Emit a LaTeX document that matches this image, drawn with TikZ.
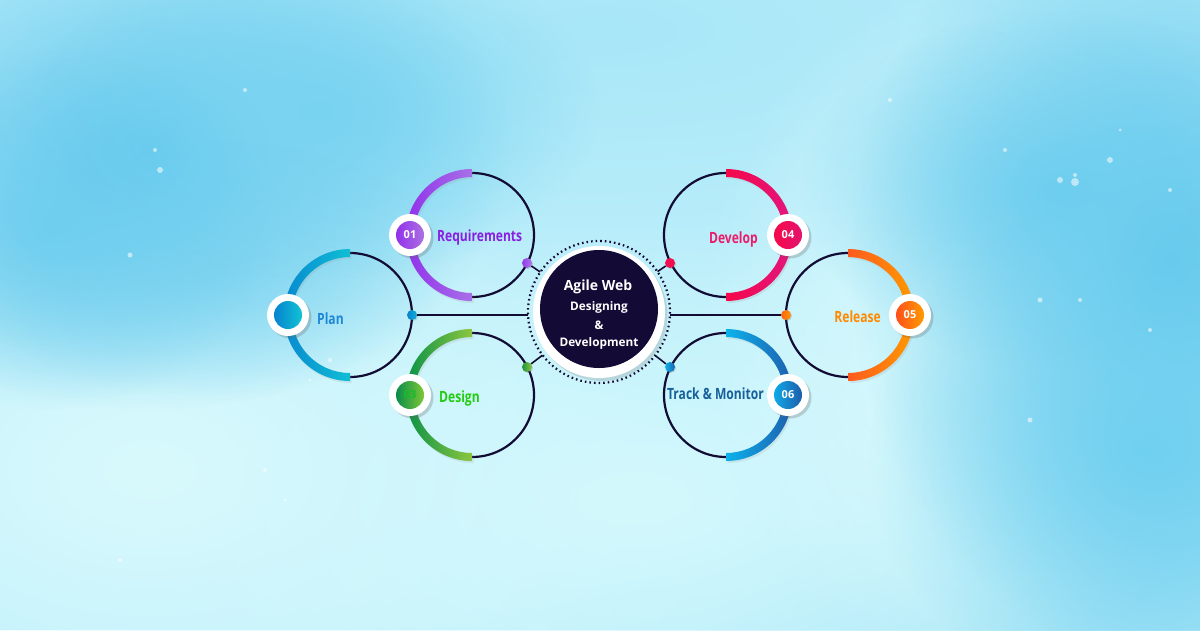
\documentclass[tikz,border=0pt]{standalone}
\usepackage{fontspec}
\setmainfont{Open Sans}
\newfontfamily\labfont[FakeStretch=0.78]{Open Sans}
\usetikzlibrary{fadings,calc,shadows}

\definecolor{bgbase}{HTML}{BDEFFB}
\definecolor{ink}{HTML}{120C35}
\definecolor{core}{HTML}{140A36}
\tikzfading[name=softblob, inner color=transparent!0, outer color=transparent!100]

\newcommand\halfarcL[4]{%
  \fill[black!40,opacity=0.18] (#1+1.5,#2-64) arc[start angle=270,end angle=90,radius=66] -- (#1+1.5,#2+60) arc[start angle=90,end angle=270,radius=58] -- cycle;
  \shade[left color=#4, right color=#3] (#1,#2-66) arc[start angle=270,end angle=90,radius=66] -- (#1,#2+58) arc[start angle=90,end angle=270,radius=58] -- cycle;}
\newcommand\halfarcR[4]{%
  \fill[black!40,opacity=0.18] (#1+1.5,#2-64) arc[start angle=-90,end angle=90,radius=66] -- (#1+1.5,#2+60) arc[start angle=90,end angle=-90,radius=58] -- cycle;
  \shade[left color=#3, right color=#4] (#1,#2-66) arc[start angle=-90,end angle=90,radius=66] -- (#1,#2+58) arc[start angle=90,end angle=-90,radius=58] -- cycle;}

\begin{document}
\begin{tikzpicture}[x=1pt,y=-1pt,
  thinring/.style={draw=ink, line width=2.2pt},
  conn/.style={draw=ink, line width=1.6pt},
  blob/.style={path fading=softblob},
  badge/.style={circle, fill=white, minimum size=42pt, inner sep=0pt,
     drop shadow={shadow xshift=2.5pt, shadow yshift=-2.5pt, opacity=0.28, fill=black!60}},
  badgein/.style={circle, minimum size=28pt, inner sep=0pt, text=white,
     font=\bfseries\fontsize{11}{11}\selectfont},
  dotnode/.style={circle, minimum size=10pt, inner sep=0pt,
     drop shadow={shadow xshift=1pt, shadow yshift=-1pt, opacity=0.25, fill=black!60}},
  lab/.style={inner sep=0pt, font=\labfont\bfseries\fontsize{15.5}{15.5}\selectfont},
  ctext/.style={text=white, align=center, inner sep=0pt}]

% ---------- background ----------
\useasboundingbox (0,0) rectangle (1200,630);
\begin{scope}
\clip (0,0) rectangle (1200,630);
\fill[bgbase] (0,0) rectangle (1200,630);
\fill[blob, color={rgb,255:red,168;green,231;blue,248}] (600,30) ellipse (800 and 260);
\fill[blob, color={rgb,255:red,165;green,229;blue,247}] (1050,650) ellipse (560 and 220);
\fill[blob, color={rgb,255:red,218;green,250;blue,253}] (150,470) ellipse (520 and 320);
\fill[blob, color={rgb,255:red,212;green,249;blue,253}] (640,500) ellipse (560 and 280);
\fill[blob, color={rgb,255:red,218;green,250;blue,253}] (960,330) ellipse (260 and 340);
\fill[blob, color={rgb,255:red,98;green,200;blue,237}] (150,150) ellipse (360 and 260);
\fill[blob, color={rgb,255:red,104;green,203;blue,238}, opacity=0.8] (50,230) ellipse (220 and 180);
\fill[blob, color={rgb,255:red,120;green,211;blue,241}] (320,110) ellipse (280 and 170);
\fill[blob, color={rgb,255:red,112;green,207;blue,239}, opacity=0.6] (210,270) ellipse (240 and 130);
\fill[blob, color={rgb,255:red,96;green,199;blue,236}] (1170,260) ellipse (320 and 400);
\fill[blob, color={rgb,255:red,110;green,206;blue,239}] (1060,190) ellipse (260 and 180);
\fill[blob, color={rgb,255:red,112;green,208;blue,240}] (1150,450) ellipse (280 and 260);
\foreach \p/\r in {(160,170)/3,(155,150)/2,(130,255)/2.5,(245,90)/2,(330,360)/2,(310,380)/1.5,(1060,180)/3,
  (1075,175)/2,(1005,150)/2,(1170,190)/2,(1120,130)/1.5,(1040,300)/2.5,(1080,300)/2,(1150,330)/2,
  (890,100)/2,(265,470)/2,(285,500)/1.5,(120,560)/2,(1030,420)/2.5,(1075,182)/4,(1110,160)/3}
  \fill[white, opacity=0.55] \p circle (\r);
\end{scope}

% ---------- core ----------
\node[circle, minimum size=142pt, inner sep=0pt] (core) at (599,312) {};
\fill[black!50, opacity=0.25] (601.5,315) circle (66);
\fill[white] (599,312) circle (66);
\fill[core] (599,309) circle (59);
\draw[ink, line width=2.2pt, dash pattern=on 1.6pt off 3pt] (599,312) circle (71);
\node[ctext, font=\bfseries\fontsize{14}{14}\selectfont] at (598,287) {Agile Web};
\node[ctext, font=\bfseries\fontsize{11.8}{11.8}\selectfont] at (599,307) {Designing};
\node[ctext, font=\bfseries\fontsize{11.8}{11.8}\selectfont] at (599,325) {\&};
\node[ctext, font=\bfseries\fontsize{11.8}{11.8}\selectfont] at (599,343) {Development};

% ---------- rings ----------
\draw[thinring] (472,235) circle (62);
\draw[thinring] (350,315) circle (62);
\draw[thinring] (472,395) circle (62);
\draw[thinring] (726,235) circle (62);
\draw[thinring] (848,315) circle (62);
\draw[thinring] (726,395) circle (62);

\halfarcL{472}{235}{ {rgb,255:red,168;green,112;blue,232} }{ {rgb,255:red,145;green,50;blue,234} }
\halfarcL{350}{315}{ {rgb,255:red,16;green,190;blue,212} }{ {rgb,255:red,8;green,138;blue,208} }
\halfarcL{472}{395}{ {rgb,255:red,140;green,198;blue,63} }{ {rgb,255:red,10;green,146;blue,72} }
\halfarcR{726}{235}{ {rgb,255:red,245;green,8;blue,74} }{ {rgb,255:red,226;green,22;blue,126} }
\halfarcR{848}{315}{ {rgb,255:red,255;green,90;blue,30} }{ {rgb,255:red,255;green,154;blue,0} }
\halfarcR{726}{395}{ {rgb,255:red,13;green,178;blue,236} }{ {rgb,255:red,29;green,95;blue,174} }

% ---------- connector dots ----------
\node[dotnode, left color={rgb,255:red,8;green,130;blue,205}, right color={rgb,255:red,16;green,175;blue,215}] (plandot) at (412,315) {};
\node[dotnode, left color={rgb,255:red,255;green,100;blue,20}, right color={rgb,255:red,255;green,150;blue,0}] (reldot) at (786,315) {};
\node[dotnode, left color={rgb,255:red,145;green,60;blue,232}, right color={rgb,255:red,175;green,120;blue,235}] (reqdot) at (527,263) {};
\node[dotnode, left color={rgb,255:red,30;green,150;blue,60}, right color={rgb,255:red,140;green,198;blue,63}] (desdot) at (527,367) {};
\node[dotnode, fill={rgb,255:red,242;green,12;blue,80}] (devdot) at (670,263) {};
\node[dotnode, left color={rgb,255:red,13;green,178;blue,236}, right color={rgb,255:red,29;green,95;blue,174}] (trkdot) at (670,367) {};

\draw[conn] (plandot) -- (core.west |- plandot);
\draw[conn] (reldot) -- (core.east |- reldot);
\draw[conn] (reqdot) -- (core);
\draw[conn] (desdot) -- (core);
\draw[conn] (devdot) -- (core);
\draw[conn] (trkdot) -- (core);

% ---------- badges ----------
\node[badge] (b1) at (410,235) {};
\node[badgein, left color={rgb,255:red,145;green,50;blue,234}, right color={rgb,255:red,172;green,112;blue,226}] at (b1) {01};
\node[badge] (b2) at (288,315) {};
\node[badgein, left color={rgb,255:red,8;green,130;blue,208}, right color={rgb,255:red,16;green,195;blue,212}] at (b2) {};
\node[badge] (b3) at (410,395) {};
\node[badgein, left color={rgb,255:red,10;green,140;blue,75}, right color={rgb,255:red,125;green,200;blue,55}, text={rgb,255:red,20;green,190;blue,40}] at (b3) {03};
\node[badge] (b4) at (788,235) {};
\node[badgein, left color={rgb,255:red,245;green,8;blue,74}, right color={rgb,255:red,228;green,20;blue,110}] at (b4) {04};
\node[badge] (b5) at (910,315) {};
\node[badgein, left color={rgb,255:red,255;green,80;blue,28}, right color={rgb,255:red,255;green,155;blue,0}] at (b5) {05};
\node[badge] (b6) at (788,395) {};
\node[badgein, left color={rgb,255:red,16;green,170;blue,232}, right color={rgb,255:red,30;green,92;blue,170}] at (b6) {06};

% ---------- labels ----------
\node[lab, anchor=west, text={rgb,255:red,138;green,30;blue,226}] at (437,237) {Requirements};
\node[lab, anchor=west, text={rgb,255:red,30;green,135;blue,214}] at (317,319) {Plan};
\node[lab, anchor=west, text={rgb,255:red,38;green,204;blue,17}] at (439,398) {Design};
\node[lab, anchor=east, text={rgb,255:red,236;green,28;blue,107}] at (758,239) {Develop};
\node[lab, anchor=east, text={rgb,255:red,255;green,138;blue,0}] at (881,317) {Release};
\node[lab, anchor=east, text={rgb,255:red,23;green,96;blue,154}] at (764,394) {Track \& Monitor};
\end{tikzpicture}
\end{document}
